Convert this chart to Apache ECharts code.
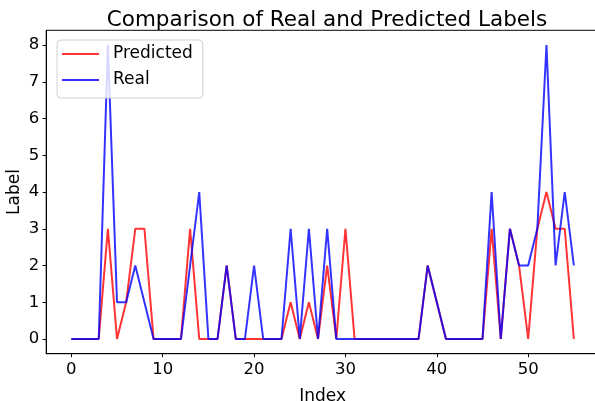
<!DOCTYPE html>
<html>
<head>
<meta charset="utf-8">
<script src="https://cdn.jsdelivr.net/npm/echarts@6/dist/echarts.min.js"></script>
<style>
html,body{margin:0;padding:0;background:#fff;}
#chart{width:595px;height:401px;}
</style>
</head>
<body>
<div id="chart"></div>
<script>
const indices = Array.from({length: 56}, (_, i) => i);
const predicted = [0,0,0,0,3,0,1,3,3,0,0,0,0,3,0,0,0,2,0,0,0,0,0,0,1,0,1,0,2,0,3,0,0,0,0,0,0,0,0,2,1,0,0,0,0,0,3,0,3,2,0,3,4,3,3,0];
const real =      [0,0,0,0,8,1,1,2,1,0,0,0,0,2,4,0,0,2,0,0,2,0,0,0,3,0,3,0,3,0,0,0,0,0,0,0,0,0,0,2,1,0,0,0,0,0,4,0,3,2,2,3,8,2,4,2];
const xTicks = [0,10,20,30,40,50];
const yTicks = [0,1,2,3,4,5,6,7,8];

const font = 'DejaVu Sans';
const chart = echarts.init(document.getElementById('chart'));
chart.setOption({
  animation: false,
  backgroundColor: '#fff',
  title: {
    text: 'Comparison of Real and Predicted Labels',
    left: 322, textAlign: 'center', top: 4,
    textStyle: {fontFamily: font, fontSize: 21.5, fontWeight: 'normal', color: '#000'}
  },
  legend: {
    orient: 'vertical', left: 57, top: 40,
    data: ['Predicted', 'Real'],
    icon: 'rect',
    itemWidth: 37, itemHeight: 2, itemGap: 6,
    padding: [4, 10, 8, 5],
    backgroundColor: 'rgba(255,255,255,0.8)',
    borderColor: '#d0d0d0', borderWidth: 1, borderRadius: 4,
    textStyle: {fontFamily: font, fontSize: 17, color: '#000', lineHeight: 20, padding: [0,0,0,9]}
  },
  grid: {left: 46.2, right: -4, top: 30.3, bottom: 47.3, show: true, borderColor: '#000', borderWidth: 1, containLabel: false, outerBoundsMode: 'none'},
  xAxis: {
    type: 'value', min: -2.75, max: 57.75,
    name: 'Index', nameLocation: 'middle', nameGap: 34, nameMoveOverlap: false,
    nameTextStyle: {fontFamily: font, fontSize: 17, color: '#000'},
    axisLine: {show: true, onZero: false, lineStyle: {color: '#000', width: 1}},
    axisTick: {show: true, length: 3.5, inside: false, customValues: xTicks, lineStyle: {color: '#000'}},
    axisLabel: {customValues: xTicks, fontFamily: font, fontSize: 16.5, color: '#000', margin: 8},
    splitLine: {show: false}
  },
  yAxis: {
    type: 'value', min: -0.4, max: 8.4,
    name: 'Label', nameLocation: 'middle', nameGap: 23, nameMoveOverlap: false,
    nameTextStyle: {fontFamily: font, fontSize: 17, color: '#000'},
    axisLine: {show: true, onZero: false, lineStyle: {color: '#000', width: 1}},
    axisTick: {show: true, length: 3.5, inside: false, customValues: yTicks, lineStyle: {color: '#000'}},
    axisLabel: {customValues: yTicks, fontFamily: font, fontSize: 16.5, color: '#000', margin: 7},
    splitLine: {show: false}
  },
  series: [
    {name: 'Predicted', type: 'line', data: indices.map((x, i) => [x, predicted[i]]),
     symbol: 'none', lineStyle: {color: 'rgba(255,0,0,0.8)', width: 2}, itemStyle: {color: 'rgba(255,0,0,0.8)'}},
    {name: 'Real', type: 'line', data: indices.map((x, i) => [x, real[i]]),
     symbol: 'none', lineStyle: {color: 'rgba(0,0,255,0.8)', width: 2}, itemStyle: {color: 'rgba(0,0,255,0.8)'}}
  ]
});
</script>
</body>
</html>
